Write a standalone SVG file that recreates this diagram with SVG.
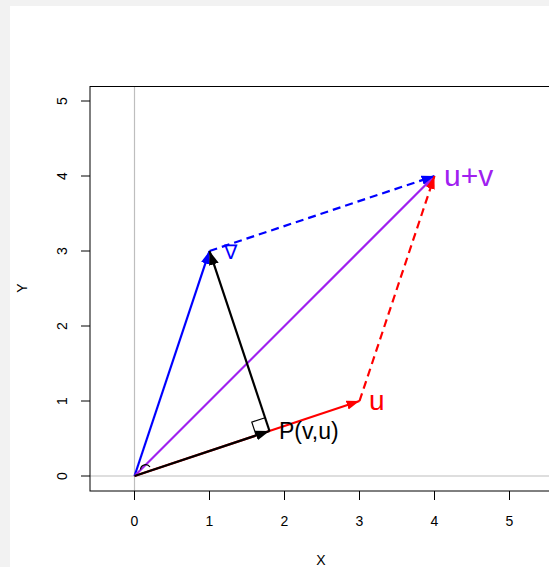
<svg xmlns="http://www.w3.org/2000/svg" width="549" height="567" viewBox="0 0 549 567">
<style>
text{font-family:"Liberation Sans",Arial,sans-serif;}
.tick{font-size:14px;fill:#000;}
.ax{stroke:#000;stroke-width:1;fill:none;}
.grid{stroke:#bebebe;stroke-width:1.2;}
.vec{fill:none;stroke-width:2.2;}
</style>
<defs>
<marker id="hr" markerUnits="userSpaceOnUse" markerWidth="14" markerHeight="10" refX="13" refY="5" orient="auto"><path d="M0,0.5 L13,5 L0,9.5 z" fill="#ff0000"/></marker>
<marker id="hb" markerUnits="userSpaceOnUse" markerWidth="14" markerHeight="10" refX="13" refY="5" orient="auto"><path d="M0,0.5 L13,5 L0,9.5 z" fill="#0000ff"/></marker>
<marker id="hp" markerUnits="userSpaceOnUse" markerWidth="14" markerHeight="10" refX="13" refY="5" orient="auto"><path d="M0,0.5 L13,5 L0,9.5 z" fill="#a020f0"/></marker>
<marker id="hk" markerUnits="userSpaceOnUse" markerWidth="15" markerHeight="11" refX="14" refY="5.5" orient="auto"><path d="M0,0.5 L14,5.5 L0,10.5 z" fill="#000"/></marker>
</defs>
<rect x="0" y="0" width="549" height="567" fill="#f2f2f2"/>
<rect x="10" y="6" width="539" height="561" fill="#ffffff"/>
<g id="grid">
<line class="grid" x1="134.5" y1="86" x2="134.5" y2="491"/>
<line class="grid" x1="90" y1="476" x2="549" y2="476"/>
</g>
<g id="axes">
<rect class="ax" x="90" y="86.5" width="470" height="404.5"/>
<path class="ax" d="M134.5,491V500M209.5,491V500M284.5,491V500M359.5,491V500M434.5,491V500M509.5,491V500"/>
<path class="ax" d="M90,476H81M90,401H81M90,326H81M90,251H81M90,176H81M90,101H81"/>
<g class="tick" text-anchor="middle">
<text x="134.5" y="526">0</text><text x="209.5" y="526">1</text><text x="284.5" y="526">2</text><text x="359.5" y="526">3</text><text x="434.5" y="526">4</text><text x="509.5" y="526">5</text>
<text transform="translate(67,476) rotate(-90)">0</text>
<text transform="translate(67,401) rotate(-90)">1</text>
<text transform="translate(67,326) rotate(-90)">2</text>
<text transform="translate(67,251) rotate(-90)">3</text>
<text transform="translate(67,176) rotate(-90)">4</text>
<text transform="translate(67,101) rotate(-90)">5</text>
<text x="321" y="565">X</text>
<text transform="translate(27,288) rotate(-90)">Y</text>
</g>
</g>
<g id="connectors">
<line class="vec" stroke="#ff0000" x1="134.5" y1="476" x2="359.5" y2="401" marker-end="url(#hr)"/>
<line class="vec" stroke="#0000ff" x1="134.5" y1="476" x2="209.5" y2="251" marker-end="url(#hb)"/>
<line class="vec" stroke="#a020f0" x1="134.5" y1="476" x2="434.5" y2="176" marker-end="url(#hp)"/>
<line class="vec" stroke="#0000ff" stroke-dasharray="8,5" x1="209.5" y1="251" x2="434.5" y2="176" marker-end="url(#hb)"/>
<line class="vec" stroke="#ff0000" stroke-dasharray="8,5" x1="359.5" y1="401" x2="434.5" y2="176" marker-end="url(#hr)"/>
<line class="vec" stroke="#000" stroke-width="3.5" x1="134.5" y1="476" x2="269.5" y2="431" marker-end="url(#hk)"/>
<line class="vec" stroke="#000" stroke-width="2.5" x1="269.5" y1="431" x2="209.5" y2="251" marker-end="url(#hk)"/>
<path d="M269.5,431 L256.2,435.4 L251.8,422.1 L265.1,417.7" fill="none" stroke="#000" stroke-width="1.2"/>
<path d="M140.5,469.5 A5.2,5.2 0 0 1 150,467" fill="none" stroke="#000" stroke-width="1.2"/>
</g>
<g id="labels">
<text x="230" y="259" font-size="20" fill="#0000ff" text-anchor="middle">∇</text>
<text x="369" y="410" font-size="28" fill="#ff0000">u</text>
<text x="444" y="186" font-size="30" fill="#a020f0">u+v</text>
<text x="279" y="439" font-size="23" fill="#000">P(v,u)</text>
</g>
</svg>
